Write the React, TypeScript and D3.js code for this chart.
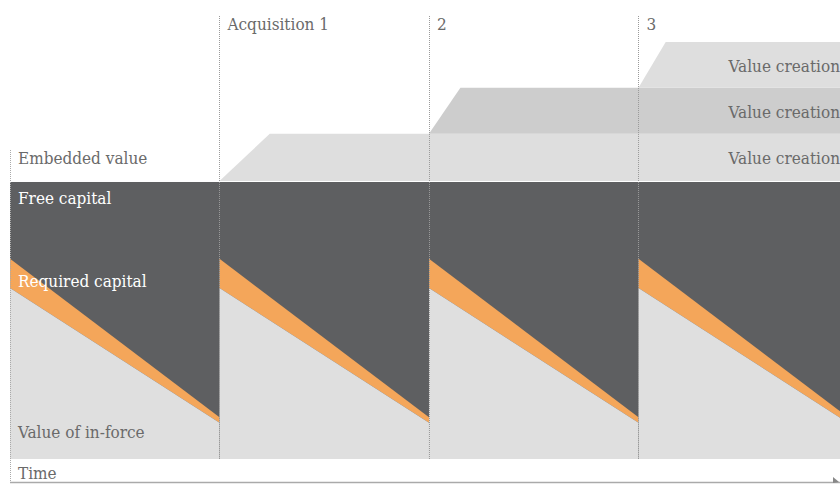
import React from "react";
import * as d3 from "d3";

// ---- data ----
const acquisitions = [0, 1, 2, 3]; // start of each block (time units)
const acquisitionLabels = ["", "Acquisition 1", "2", "3"];
const embeddedValue = 100;
const vifStart = 61.5; // value of in-force at start of block
const vifEnd = 13;
const reqStart = 10.5; // required capital at start of block
const reqEnd = 2;
const bandStart = [1, 2, 3]; // value creation ramps
const bandRampEnd = [1.24, 2.15, 3.13];
const bandBase = [100, 117, 133.5];
const bandTop = [117, 133.5, 150];
const bandLabels = ["Value creation", "Value creation", "Value creation"];
const timeEnd = 3.962;

const W = 840;
const H = 484;
const FONT = "'DejaVu Serif Condensed', 'DejaVu Serif', serif";
const FS = 17;
const DARK = "#5e5f61";
const ORANGE = "#f4a65a";
const LIGHT = "#dfdfdf";
const BAND_COLORS = ["#dedede", "#cdcdcd", "#dedede"];
const TEXT = "#6a6a6a";

export default function App() {
  const x = d3.scaleLinear().domain([0, timeEnd]).range([10, 840]);
  const y = d3.scaleLinear().domain([0, 150]).range([459, 42]);

  type P = { t: number; y0: number; y1: number };
  const area = d3
    .area<P>()
    .x((d) => x(d.t))
    .y0((d) => y(d.y0))
    .y1((d) => y(d.y1));

  const blocks = acquisitions.map((a) => {
    const t1 = a + 1;
    const vif: P[] = [
      { t: a, y0: 0, y1: vifStart },
      { t: t1, y0: 0, y1: vifEnd },
    ];
    const req: P[] = [
      { t: a, y0: vifStart, y1: vifStart + reqStart },
      { t: t1, y0: vifEnd, y1: vifEnd + reqEnd },
    ];
    return { a, vif, req };
  });

  const bands = bandStart.map((s, i) => [
    { t: s, y0: bandBase[i], y1: bandBase[i] },
    { t: bandRampEnd[i], y0: bandBase[i], y1: bandTop[i] },
    { t: timeEnd + 0.1, y0: bandBase[i], y1: bandTop[i] },
  ]);

  return (
    <svg
      width={W}
      height={H}
      style={{ position: "absolute", left: 0, top: 0, background: "#fff" }}
    >
      <defs>
        <clipPath id="plot">
          <rect x={x(0)} y={0} width={x(timeEnd) - x(0)} height={y(0)} />
        </clipPath>
      </defs>
      <g clipPath="url(#plot)">
        {bands.map((b, i) => (
          <path key={"b" + i} d={area(b) || ""} fill={BAND_COLORS[i]} />
        ))}
        <rect
          x={x(0)}
          y={y(embeddedValue) + 1}
          width={x(timeEnd + 0.1) - x(0)}
          height={y(0) - y(embeddedValue) - 1}
          fill={DARK}
        />
        {blocks.map((b) => (
          <g key={b.a}>
            <path d={area(b.req) || ""} fill={ORANGE} />
            <path d={area(b.vif) || ""} fill={LIGHT} />
          </g>
        ))}
      </g>

      {/* acquisition lines */}
      {acquisitions.slice(1).map((a) => (
        <line
          key={a}
          x1={Math.round(x(a)) + 0.5}
          x2={Math.round(x(a)) + 0.5}
          y1={16}
          y2={y(0)}
          stroke="#9a9a9a"
          strokeWidth={1}
          strokeDasharray="1,1"
        />
      ))}
      <line
        x1={Math.round(x(0)) + 0.5}
        x2={Math.round(x(0)) + 0.5}
        y1={150}
        y2={482}
        stroke="#aaaaaa"
        strokeWidth={1}
        strokeDasharray="1,1"
      />
      {/* time axis */}
      <line x1={x(0)} x2={840} y1={482.5} y2={482.5} stroke="#aaaaaa" strokeWidth={1.5} />
      <path d="M833,477 L839,482 L833,483 Z" fill="#888" />

      {acquisitions.slice(1).map((a, i) => (
        <text
          key={"l" + a}
          x={x(a) + 8}
          y={30}
          fontFamily={FONT}
          fontSize={FS}
          fill={TEXT}
        >
          {acquisitionLabels[i + 1]}
        </text>
      ))}

      {bandLabels.map((l, i) => (
        <text
          key={"bl" + i}
          x={840}
          y={(y(bandBase[i]) + y(bandTop[i])) / 2 + 7}
          textAnchor="end"
          fontFamily={FONT}
          fontSize={FS}
          fill={TEXT}
        >
          {l}
        </text>
      ))}

      <text x={18} y={164} fontFamily={FONT} fontSize={FS} fill={TEXT}>
        Embedded value
      </text>
      <text x={18} y={204} fontFamily={FONT} fontSize={FS} fill="#ffffff">
        Free capital
      </text>
      <text x={18} y={287} fontFamily={FONT} fontSize={FS} fill="#ffffff">
        Required capital
      </text>
      <text x={18} y={438} fontFamily={FONT} fontSize={FS} fill={TEXT}>
        Value of in-force
      </text>
      <text x={18} y={479} fontFamily={FONT} fontSize={FS} fill={TEXT}>
        Time
      </text>
    </svg>
  );
}
